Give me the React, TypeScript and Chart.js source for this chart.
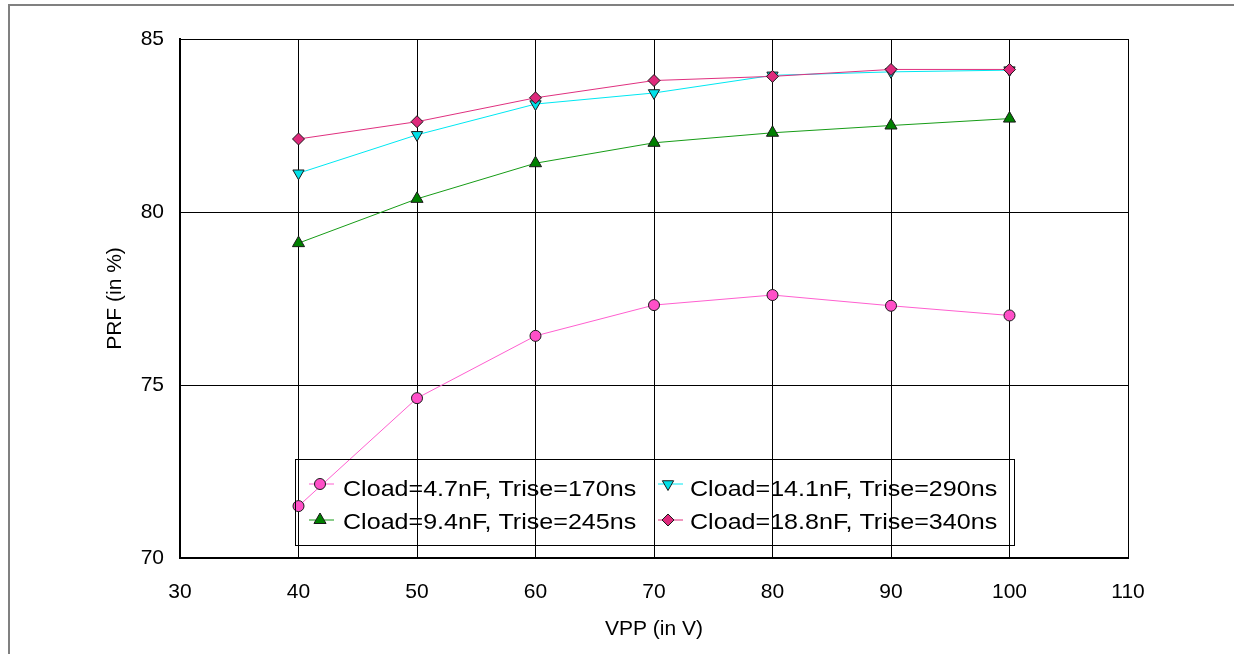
import React, { useEffect, useRef } from 'react';
import { Chart, registerables } from 'chart.js';
import { drawPoint } from 'chart.js/helpers';

Chart.register(...registerables);

const vppValues = [40, 50, 60, 70, 80, 90, 100];
const seriesLabels = [
  'Cload=4.7nF, Trise=170ns',
  'Cload=9.4nF, Trise=245ns',
  'Cload=14.1nF, Trise=290ns',
  'Cload=18.8nF, Trise=340ns',
];
const prf47 = [71.5, 74.62, 76.42, 77.31, 77.6, 77.29, 77.01];
const prf94 = [79.1, 80.38, 81.41, 82.0, 82.29, 82.5, 82.7];
const prf141 = [81.12, 82.23, 83.12, 83.44, 83.95, 84.05, 84.1];
const prf188 = [82.11, 82.61, 83.3, 83.8, 83.92, 84.12, 84.12];
const xTickValues = [30, 40, 50, 60, 70, 80, 90, 100, 110];
const yTickValues = [70, 75, 80, 85];
const xTitle = 'VPP (in V)';
const yTitle = 'PRF (in %)';

const FONT = "'Liberation Sans', Arial, sans-serif";

const framePlugin = {
  id: 'frame',
  beforeDraw(chart: any) {
    const { ctx, width, height } = chart;
    ctx.save();
    ctx.fillStyle = '#ffffff';
    ctx.fillRect(0, 0, width, height);
    ctx.strokeStyle = '#808080';
    ctx.lineWidth = 2;
    ctx.beginPath();
    ctx.moveTo(9, height);
    ctx.lineTo(9, 5);
    ctx.lineTo(width, 5);
    ctx.stroke();
    ctx.restore();
  },
};

const titlesPlugin = {
  id: 'axisTitles',
  afterDraw(chart: any) {
    const { ctx, chartArea } = chart;
    ctx.save();
    ctx.fillStyle = '#000';
    ctx.font = `21px ${FONT}`;
    ctx.textAlign = 'center';
    ctx.textBaseline = 'middle';
    ctx.fillText(xTitle, (chartArea.left + chartArea.right) / 2, chartArea.bottom + 71);
    ctx.translate(chartArea.left - 65, (chartArea.top + chartArea.bottom) / 2);
    ctx.rotate(-Math.PI / 2);
    ctx.fillText(yTitle, 0, 0);
    ctx.restore();
  },
};

const legendPlugin = {
  id: 'boxLegend',
  afterDraw(chart: any) {
    const { ctx, chartArea } = chart;
    const bx = chartArea.left + 115;
    const by = chartArea.top + 420;
    const bw = 719;
    const bh = 86;
    ctx.save();
    ctx.strokeStyle = '#000';
    ctx.lineWidth = 1;
    ctx.strokeRect(bx + 0.5, by + 0.5, bw, bh);
    const slots = [
      { col: 0, row: 0 },
      { col: 0, row: 1 },
      { col: 1, row: 0 },
      { col: 1, row: 1 },
    ];
    chart.data.datasets.forEach((ds: any, i: number) => {
      const s = slots[i];
      const lx = bx + (s.col === 0 ? 14 : 363);
      const mx = bx + (s.col === 0 ? 25 : 373);
      const tx = bx + (s.col === 0 ? 48 : 395);
      const my = by + (s.row === 0 ? 25 : 61);
      const ty = by + (s.row === 0 ? 31 : 64);
      ctx.strokeStyle = ds.borderColor;
      ctx.lineWidth = 1;
      ctx.beginPath();
      ctx.moveTo(lx, my);
      ctx.lineTo(lx + 25, my);
      ctx.stroke();
      ctx.fillStyle = ds.pointBackgroundColor;
      ctx.strokeStyle = ds.pointBorderColor;
      ctx.lineWidth = 1;
      drawPoint(ctx, {
        pointStyle: ds.pointStyle,
        rotation: ds.pointRotation || 0,
        radius: ds.pointRadius,
        borderWidth: 1,
      }, mx, my);
      ctx.save();
      ctx.fillStyle = '#000';
      ctx.font = `22px ${FONT}`;
      ctx.textAlign = 'left';
      ctx.textBaseline = 'middle';
      ctx.translate(tx, ty);
      ctx.scale(1.14, 1);
      ctx.fillText(ds.label, 0, 0);
      ctx.restore();
    });
    ctx.restore();
  },
};

function makeSeries(label: string, values: number[], line: string, fill: string, style: string, radius: number, order: number, rotation = 0) {
  return {
    label,
    data: vppValues.map((x, i) => ({ x, y: values[i] })),
    borderColor: line,
    backgroundColor: fill,
    borderWidth: 1,
    pointStyle: style,
    pointRadius: radius,
    pointRotation: rotation,
    pointBackgroundColor: fill,
    pointBorderColor: '#1a1a1a',
    pointBorderWidth: 1,
    showLine: true,
    tension: 0,
    order,
  };
}

export default function App() {
  const ref = useRef<HTMLCanvasElement>(null);
  useEffect(() => {
    if (!ref.current) return;
    const chart = new Chart(ref.current, {
      type: 'scatter',
      data: {
        datasets: [
          makeSeries(seriesLabels[0], prf47, '#ff5fd0', '#ff4fc8', 'circle', 5.5, 3),
          makeSeries(seriesLabels[1], prf94, '#169c16', '#008000', 'triangle', 7, 2),
          makeSeries(seriesLabels[2], prf141, '#00e8f2', '#00e0e8', 'triangle', 6.5, 1, 180),
          makeSeries(seriesLabels[3], prf188, '#e0307f', '#de2a7c', 'rectRot', 6, 0),
        ] as any,
      },
      options: {
        responsive: false,
        animation: false,
        layout: { padding: { left: 0, top: 39, right: 106, bottom: 0 } },
        plugins: { legend: { display: false }, tooltip: { enabled: false } },
        scales: {
          x: {
            type: 'linear',
            min: 30,
            max: 110,
            afterBuildTicks: (s: any) => { s.ticks = xTickValues.map((v) => ({ value: v })); },
            afterFit: (s: any) => { s.height = 96; },
            ticks: { color: '#000', font: { family: FONT, size: 21 }, padding: 22, maxRotation: 0, autoSkip: false },
            grid: { color: '#000', lineWidth: 1, drawTicks: false },
            border: { display: true, color: '#000', width: 2 },
          },
          y: {
            type: 'linear',
            min: 70,
            max: 85,
            afterBuildTicks: (s: any) => { s.ticks = yTickValues.map((v) => ({ value: v })); },
            afterFit: (s: any) => { s.width = 180; },
            ticks: { color: '#000', font: { family: FONT, size: 21 }, padding: 16, autoSkip: false },
            grid: { color: '#000', lineWidth: 1, drawTicks: false },
            border: { display: true, color: '#000', width: 2 },
          },
        },
      } as any,
      plugins: [framePlugin, titlesPlugin, legendPlugin],
    });
    return () => chart.destroy();
  }, []);
  return (
    <div style={{ position: 'fixed', left: 0, top: 0, width: 1234, height: 654, background: '#fff' }}>
      <canvas ref={ref} width={1234} height={654} style={{ display: 'block', width: 1234, height: 654 }} />
    </div>
  );
}
